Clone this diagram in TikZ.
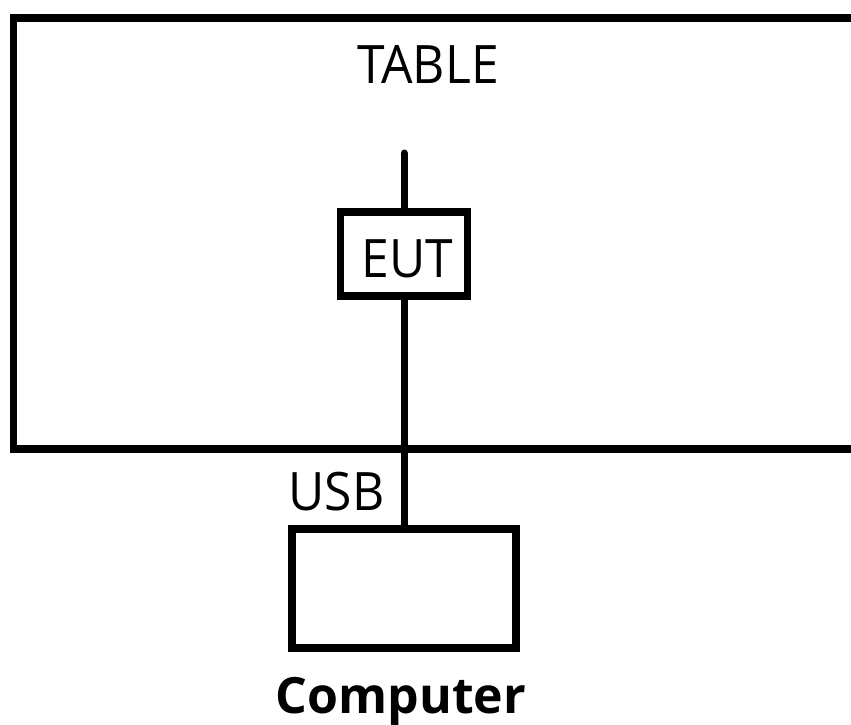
\documentclass[tikz,border=0pt]{standalone}
\usepackage{fontspec}
\setmainfont{Open Sans}
\newfontfamily\lblfont{Open Sans}[FakeStretch=0.94]
\begin{document}
\begin{tikzpicture}[x=1pt,y=-1pt,
  thickbox/.style={draw=black, line width=7.5pt, fill=none, inner sep=0pt, rectangle},
  cable/.style={draw=black, line width=7pt},
  lbl/.style={inner sep=0pt, anchor=base, font=\lblfont\fontsize{53}{60}\selectfont},
  boldlbl/.style={inner sep=0pt, anchor=base, font=\fontsize{50}{58}\selectfont\bfseries}]
\useasboundingbox (0,0) rectangle (851,724);
\begin{scope}
\clip (0,0) rectangle (851,724);
\node[thickbox, minimum width=856pt, minimum height=431pt] (table) at (441.5,233.5) {};
\end{scope}
\node[lbl] (tablelbl) at (428,83) {TABLE};
\node[thickbox, minimum width=127pt, minimum height=84pt] (eut) at (404,254) {};
\node[lbl] (eutlbl) at (407.5,277) {EUT};
\coordinate (cabletop) at (404,153);
\node[thickbox, minimum width=224pt, minimum height=119pt] (pc) at (404,588.5) {};
\node[lbl] (usb) at (336.5,510) {USB};
\node[boldlbl] (pclbl) at (401,713) {Computer};
\draw[cable, line cap=round] (cabletop) -- (eut.north);
\draw[cable] (eut.south) -- (pc.north);
\end{tikzpicture}
\end{document}
